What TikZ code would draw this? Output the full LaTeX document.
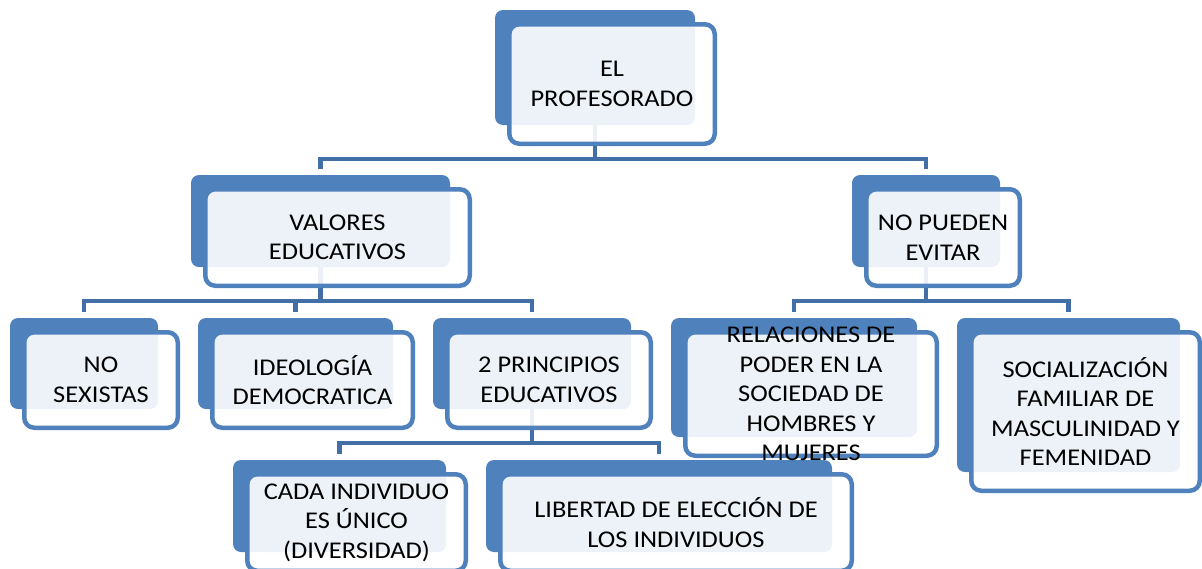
\documentclass[tikz,border=0pt]{standalone}
\usepackage{fontspec}
\setmainfont{Carlito}[FakeStretch=1.1]
\usepackage{tikz}
\usetikzlibrary{backgrounds}
\definecolor{boxblue}{HTML}{4F81BD}
\definecolor{linkblue}{HTML}{4270A6}

\begin{document}
\begin{tikzpicture}[
  x=1pt, y=-1pt,
  every node/.style={font=\fontsize{24}{29.5}\selectfont},
  back/.style={rectangle, rounded corners=8pt, fill=boxblue, inner sep=0pt},
  frame/.style={rectangle, rounded corners=10pt, draw=boxblue, line width=4.5pt,
                fill=white, fill opacity=0.9, inner sep=0pt},
  txt/.style={align=center, inner sep=0pt, text=black},
  conn/.style={draw=linkblue, line width=4.5pt}
]
\useasboundingbox (0,0) rectangle (1202,568);

% ---- Level 1 ----
\node[back, minimum width=200pt, minimum height=115pt] (prof) at (595,67.5) {};
\node[frame, minimum width=205.5pt, minimum height=119.5pt] (profF) at ([shift={(17,16.5)}]prof.center) {};
\node[txt] (profT) at (profF) {EL\\PROFESORADO};

% ---- Level 2 ----
\node[back, minimum width=259pt, minimum height=92pt] (valores) at (320.5,221) {};
\node[frame, minimum width=264.5pt, minimum height=96.5pt] (valoresF) at ([shift={(17,16.5)}]valores.center) {};
\node[txt] (valoresT) at (valoresF) {VALORES\\EDUCATIVOS};

\node[back, minimum width=148pt, minimum height=92pt] (nopueden) at (926,221) {};
\node[frame, minimum width=153.5pt, minimum height=96.5pt] (nopuedenF) at ([shift={(17,16.5)}]nopueden.center) {};
\node[txt] (nopuedenT) at (nopuedenF) {NO PUEDEN\\EVITAR};

% ---- Level 3 ----
\node[back, minimum width=148pt, minimum height=91pt] (nosex) at (84,363.5) {};
\node[frame, minimum width=153.5pt, minimum height=95.5pt] (nosexF) at ([shift={(17,16.5)}]nosex.center) {};
\node[txt] (nosexT) at (nosexF) {NO\\SEXISTAS};

\node[back, minimum width=195pt, minimum height=91pt] (ideol) at (295.5,363.5) {};
\node[frame, minimum width=200.5pt, minimum height=95.5pt] (ideolF) at ([shift={(17,16.5)}]ideol.center) {};
\node[txt] (ideolT) at (ideolF) {IDEOLOGÍA\\DEMOCRATICA};

\node[back, minimum width=198pt, minimum height=91pt] (princ) at (532,363.5) {};
\node[frame, minimum width=203.5pt, minimum height=95.5pt] (princF) at ([shift={(17,16.5)}]princ.center) {};
\node[txt] (princT) at (princF) {2 PRINCIPIOS\\EDUCATIVOS};

% ---- Level 4 ----
\node[back, minimum width=213pt, minimum height=92pt] (cada) at (339.5,506) {};
\node[frame, minimum width=218.5pt, minimum height=96.5pt] (cadaF) at ([shift={(17,16.5)}]cada.center) {};
\node[txt] (cadaT) at (cadaF) {CADA INDIVIDUO\\ES ÚNICO\\(DIVERSIDAD)};

\node[back, minimum width=346pt, minimum height=92pt] (libert) at (659,506) {};
\node[frame, minimum width=351.5pt, minimum height=96.5pt] (libertF) at ([shift={(17,16.5)}]libert.center) {};
\node[txt] (libertT) at (libertF) {LIBERTAD DE ELECCIÓN DE\\LOS INDIVIDUOS};

% ---- Level 3, right ----
\node[back, minimum width=246pt, minimum height=119pt] (relac) at (794,377.5) {};
\node[frame, minimum width=251.5pt, minimum height=123.5pt] (relacF) at ([shift={(17,16.5)}]relac.center) {};
\node[txt] (relacT) at (relacF) {RELACIONES DE\\PODER EN LA\\SOCIEDAD DE\\HOMBRES Y\\MUJERES};

\node[back, minimum width=223pt, minimum height=154pt] (social) at (1068.5,395) {};
\node[frame, minimum width=228.5pt, minimum height=158.5pt] (socialF) at ([shift={(17,16.5)}]social.center) {};
\node[txt] (socialT) at (socialF) {SOCIALIZACIÓN\\FAMILIAR DE\\MASCULINIDAD Y\\FEMENIDAD};

% ---- Connectors ----
\coordinate (busA) at (0,159);
\coordinate (busB) at (0,301);
\coordinate (busC) at (0,443);
\begin{pgfonlayer}{background}
\foreach \kid in {valores,nopueden}
  \draw[conn] (prof.center) |- (\kid.north |- busA) -- ([yshift=6pt]\kid.north);
\foreach \kid in {nosex,ideol,princ}
  \draw[conn] (valores.center) |- (\kid.north |- busB) -- ([yshift=6pt]\kid.north);
\foreach \kid in {relac,social}
  \draw[conn] (nopueden.center) |- (\kid.north |- busB) -- ([yshift=6pt]\kid.north);
\foreach \kid in {cada,libert}
  \draw[conn] (princ.center) |- (\kid.north |- busC) -- ([yshift=6pt]\kid.north);
\end{pgfonlayer}

\end{tikzpicture}
\end{document}
